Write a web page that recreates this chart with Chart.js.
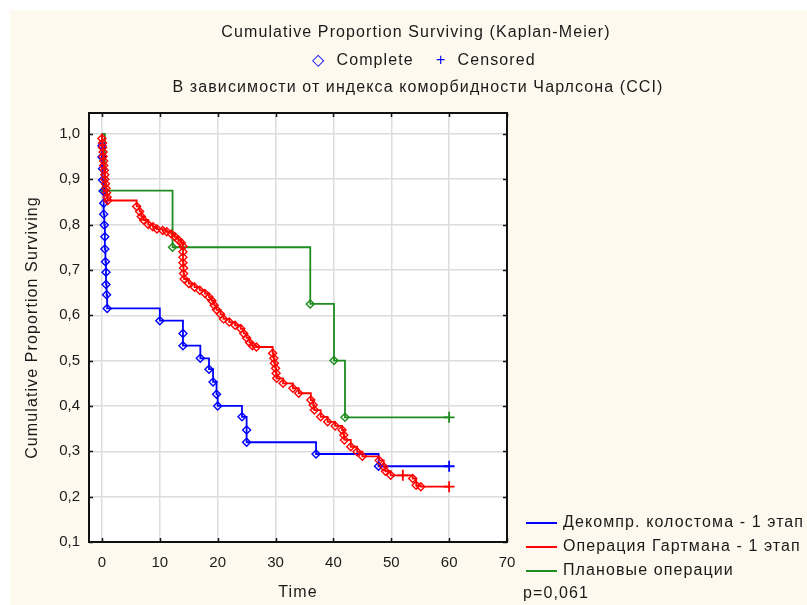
<!DOCTYPE html>
<html>
<head>
<meta charset="utf-8">
<script src="https://cdn.jsdelivr.net/npm/chart.js@4.4.0/dist/chart.umd.min.js"></script>
<style>
  html, body { margin: 0; padding: 0; background: #fff; }
  canvas { display: block; }
</style>
</head>
<body>
<canvas id="kmChart" width="807" height="605"></canvas>
<script>
const GROUP_NAMES = ['Декомпр. колостома - 1 этап', 'Операция Гартмана - 1 этап', 'Плановые операции'];
const GROUP_COLORS = ['#0000ff', '#ff0000', '#1e8c1e'];

// Декомпр. колостома - 1 этап (time, survival, censored?)
const colostomyT = [0, 0, 0, 0.1, 0.1, 0.2, 0.3, 0.3, 0.4, 0.5, 0.5, 0.6, 0.7, 0.7, 0.8, 0.9,
  10, 14, 14, 17, 18.5, 19.2, 19.8, 20, 24.2, 25, 25, 37, 47.8, 60];
const colostomyS = [1, 0.974, 0.949, 0.923, 0.898, 0.874, 0.847, 0.823, 0.799, 0.773, 0.746, 0.718, 0.695, 0.668, 0.645, 0.615,
  0.588, 0.560, 0.533, 0.505, 0.481, 0.453, 0.426, 0.400, 0.376, 0.347, 0.320, 0.294, 0.267, 0.267];
const colostomyC = [0, 0, 0, 0, 0, 0, 0, 0, 0, 0, 0, 0, 0, 0, 0, 0,
  0, 0, 0, 0, 0, 0, 0, 0, 0, 0, 0, 0, 0, 1];

// Операция Гартмана - 1 этап
const hartmannT = [0, 0, 0.1, 0.1, 0.2, 0.2, 0.3, 0.3, 0.4, 0.5, 0.5, 0.6, 0.7, 0.8, 0.9, 1.0,
  6.0, 6.5, 6.8, 7.2, 8.0, 8.8, 9.5, 10.5, 11.2, 12.0, 12.6, 13.2, 13.7,
  14.0, 14.0, 14.0, 14.0, 14.1, 14.1, 14.2, 15.0, 16.0, 16.9, 17.8, 18.5, 19.0, 19.4, 19.8,
  20.5, 21.0, 22.0, 23.0, 24.0, 24.5, 25.0, 25.5, 26.0, 26.7,
  29.5, 29.7, 29.8, 30.0, 30.1, 30.2, 31.3, 33.0, 34.0,
  36.1, 36.5, 36.7, 37.8, 39.0, 40.3, 41.5, 41.8, 41.9, 43.0, 44.1, 45.0,
  47.9, 48.7, 49.0, 49.9, 52.0, 53.7, 54.3, 55.1, 60];
const hartmannS = [1, 0.99, 0.98, 0.97, 0.96, 0.95, 0.94, 0.93, 0.92, 0.91, 0.90, 0.89, 0.88, 0.87, 0.86, 0.853,
  0.840, 0.829, 0.818, 0.810, 0.800, 0.795, 0.790, 0.787, 0.784, 0.779, 0.773, 0.766, 0.760,
  0.752, 0.740, 0.728, 0.716, 0.704, 0.692, 0.680, 0.670, 0.662, 0.655, 0.648, 0.640, 0.632, 0.622, 0.612,
  0.602, 0.592, 0.585, 0.578, 0.570, 0.560, 0.550, 0.540, 0.533, 0.530,
  0.516, 0.505, 0.494, 0.483, 0.472, 0.461, 0.450, 0.439, 0.428,
  0.413, 0.402, 0.391, 0.376, 0.365, 0.356, 0.347, 0.336, 0.325, 0.310, 0.299, 0.289,
  0.280, 0.266, 0.256, 0.247, 0.247, 0.240, 0.225, 0.222, 0.222];
const hartmannC = hartmannT.map((t, i) => (t === 52.0 || i === hartmannT.length - 1) ? 1 : 0);

// Плановые операции
const plannedT = [0, 0.5, 12.2, 36.0, 40.1, 42.0, 60];
const plannedS = [1, 0.875, 0.75, 0.625, 0.5, 0.375, 0.375];
const plannedC = [0, 0, 0, 0, 0, 0, 1];

const X_TICKS = [0, 10, 20, 30, 40, 50, 60, 70];
const Y_TICKS = [0.1, 0.2, 0.3, 0.4, 0.5, 0.6, 0.7, 0.8, 0.9, 1.0];

const FONT = '"Liberation Sans", Arial, sans-serif';
const TEXT_COLOR = '#1a1a1a';
const CREAM = '#fef9ee';

function makeDataset(idx, order, times, surv, cens) {
  return {
    label: GROUP_NAMES[idx],
    order: order,
    data: times.map((t, i) => ({x: t, y: surv[i]})),
    borderColor: GROUP_COLORS[idx],
    borderWidth: 1.8,
    stepped: 'before',
    fill: false,
    pointStyle: c => cens[c.dataIndex] ? 'cross' : 'rectRot',
    pointRadius: c => c.dataIndex === 0 ? 0 : (cens[c.dataIndex] ? 5.5 : 4),
    pointBorderColor: GROUP_COLORS[idx],
    pointBackgroundColor: 'rgba(255,255,255,0)',
    pointBorderWidth: c => cens[c.dataIndex] ? 1.8 : 1.4
  };
}

function spacedText(ctx, text, x, y) {
  ctx.letterSpacing = '1.1px';
  ctx.fillText(text, x, y);
  ctx.letterSpacing = '0px';
}

const decorPlugin = {
  id: 'decor',
  beforeDraw(chart) {
    const {ctx, chartArea: a} = chart;
    ctx.save();
    ctx.fillStyle = '#ffffff';
    ctx.fillRect(0, 0, chart.width, chart.height);
    ctx.fillStyle = CREAM;
    ctx.fillRect(10, 10, chart.width - 10, chart.height - 10);
    ctx.fillStyle = '#ffffff';
    ctx.fillRect(a.left, a.top, a.right - a.left, a.bottom - a.top);
    ctx.restore();
  },
  afterDatasetsDraw(chart) {
    const {ctx, chartArea: a, scales} = chart;
    ctx.save();
    ctx.strokeStyle = '#111';
    ctx.lineWidth = 2;
    ctx.strokeRect(a.left, a.top, a.right - a.left, a.bottom - a.top);
    // inside tick marks on all four sides
    ctx.lineWidth = 1.5;
    ctx.beginPath();
    X_TICKS.forEach(v => {
      const x = Math.round(scales.x.getPixelForValue(v)) + 0.5;
      ctx.moveTo(x, a.bottom); ctx.lineTo(x, a.bottom - 4);
      ctx.moveTo(x, a.top); ctx.lineTo(x, a.top + 4);
    });
    Y_TICKS.forEach(v => {
      const y = Math.round(scales.y.getPixelForValue(v)) + 0.5;
      ctx.moveTo(a.left, y); ctx.lineTo(a.left + 4, y);
      ctx.moveTo(a.right, y); ctx.lineTo(a.right - 4, y);
    });
    ctx.stroke();
    ctx.restore();
  },
  afterDraw(chart) {
    const {ctx, chartArea: a} = chart;
    ctx.save();
    ctx.font = '16px ' + FONT;
    ctx.textBaseline = 'middle';
    ctx.fillStyle = TEXT_COLOR;
    ctx.textAlign = 'center';
    spacedText(ctx, 'Cumulative Proportion Surviving (Kaplan-Meier)', 416, 33);
    spacedText(ctx, 'В зависимости от индекса коморбидности Чарлсона (CCI)', 418, 88);

    // axis titles
    spacedText(ctx, 'Time', (a.left + a.right) / 2, 593);
    ctx.save();
    ctx.translate(33, (a.top + a.bottom) / 2);
    ctx.rotate(-Math.PI / 2);
    spacedText(ctx, 'Cumulative Proportion Surviving', 0, 0);
    ctx.restore();

    // Complete / Censored key
    ctx.letterSpacing = '1.1px';
    const parts = [['◇', '#0000ff'], ['  Complete    ', TEXT_COLOR], ['+', '#0000ff'], ['  Censored', TEXT_COLOR]];
    let total = 0;
    parts.forEach(p => total += ctx.measureText(p[0]).width);
    let x = 424 - total / 2;
    ctx.textAlign = 'left';
    parts.forEach(p => {
      ctx.fillStyle = p[1];
      ctx.fillText(p[0], x, 61);
      x += ctx.measureText(p[0]).width;
    });
    ctx.letterSpacing = '0px';

    // group legend, bottom right
    const rows = [523, 547, 571];
    GROUP_NAMES.forEach((name, i) => {
      ctx.strokeStyle = GROUP_COLORS[i];
      ctx.lineWidth = 2;
      ctx.beginPath();
      ctx.moveTo(526, rows[i]); ctx.lineTo(557, rows[i]);
      ctx.stroke();
      ctx.fillStyle = TEXT_COLOR;
      spacedText(ctx, name, 563, rows[i]);
    });
    spacedText(ctx, 'p=0,061', 523, 594);
    ctx.restore();
  }
};

new Chart(document.getElementById('kmChart'), {
  type: 'line',
  data: {
    datasets: [
      makeDataset(0, 1, colostomyT, colostomyS, colostomyC),
      makeDataset(1, 0, hartmannT, hartmannS, hartmannC),
      makeDataset(2, 2, plannedT, plannedS, plannedC)
    ]
  },
  options: {
    responsive: false,
    animation: false,
    layout: { padding: { left: 0, top: 113, right: 300, bottom: 0 } },
    plugins: {
      legend: { display: false },
      tooltip: { enabled: false }
    },
    scales: {
      x: {
        type: 'linear',
        min: -2.24,
        max: 70,
        afterBuildTicks: s => { s.ticks = X_TICKS.map(v => ({value: v})); },
        afterFit: s => { s.height = 63; },
        grid: { color: '#dcdcdc', lineWidth: 1.5, drawTicks: false },
        border: { display: false },
        ticks: { padding: 12, color: TEXT_COLOR, font: { family: FONT, size: 15 }, callback: v => String(v) }
      },
      y: {
        type: 'linear',
        min: 0.1,
        max: 1.046,
        afterBuildTicks: s => { s.ticks = Y_TICKS.map(v => ({value: v})); },
        afterFit: s => { s.width = 89; },
        grid: { color: '#dcdcdc', lineWidth: 1.5, drawTicks: false },
        border: { display: false },
        ticks: { padding: 9, color: TEXT_COLOR, font: { family: FONT, size: 15 }, callback: v => v.toFixed(1).replace('.', ',') }
      }
    }
  },
  plugins: [decorPlugin]
});
</script>
</body>
</html>
